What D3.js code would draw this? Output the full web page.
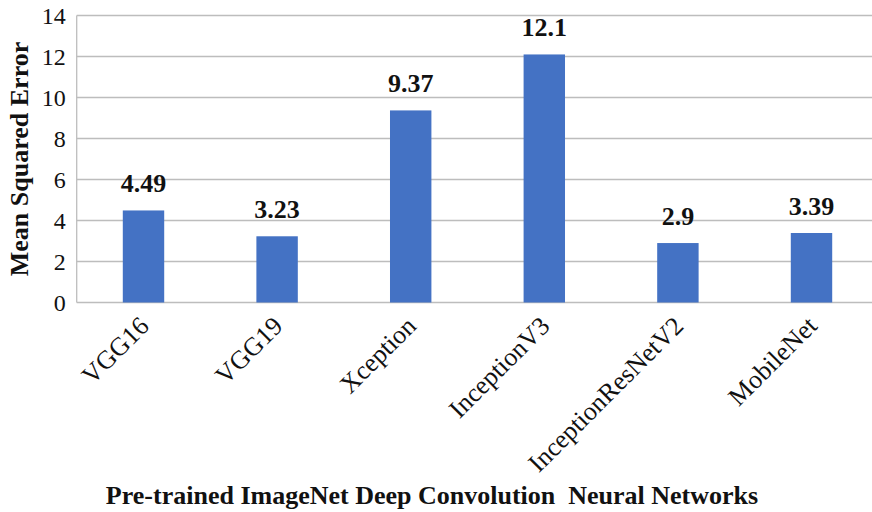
<!DOCTYPE html>
<html>
<head>
<meta charset="utf-8">
<script src="https://cdn.jsdelivr.net/npm/d3@7"></script>
<style>
  html, body { margin: 0; padding: 0; background: #fff; }
  svg { display: block; font-family: "Liberation Serif", "Times New Roman", serif; }
</style>
</head>
<body>
<svg id="chart" width="872" height="512"></svg>
<script>
// Mean squared error of each pre-trained network
const models = ["VGG16", "VGG19", "Xception", "InceptionV3", "InceptionResNetV2", "MobileNet"];
const mseValues = [4.49, 3.23, 9.37, 12.1, 2.9, 3.39];
const valueLabels = ["4.49", "3.23", "9.37", "12.1", "2.9", "3.39"];
const yTicks = [0, 2, 4, 6, 8, 10, 12, 14];

const svg = d3.select("#chart");
const plot = { left: 76.7, right: 878.3, top: 15.5, bottom: 302.5 };
const serif = "Liberation Serif";

const x = d3.scaleBand()
  .domain(models)
  .range([plot.left, plot.right])
  .paddingInner(0.69)
  .paddingOuter(0.345);

const y = d3.scaleLinear()
  .domain([0, 14])
  .range([plot.bottom, plot.top]);

// horizontal gridlines
svg.append("g")
  .selectAll("line")
  .data(yTicks)
  .join("line")
  .attr("x1", plot.left)
  .attr("x2", plot.right)
  .attr("y1", d => y(d))
  .attr("y2", d => y(d))
  .attr("stroke", "#bdbdbd")
  .attr("stroke-width", 1.3);

// left frame line
svg.append("line")
  .attr("x1", plot.left).attr("x2", plot.left)
  .attr("y1", y(14)).attr("y2", y(0))
  .attr("stroke", "#bdbdbd")
  .attr("stroke-width", 1.3);

// y axis tick labels
const yAxis = d3.axisLeft(y).tickValues(yTicks).tickSize(0).tickPadding(11);
const gy = svg.append("g")
  .attr("transform", `translate(${plot.left},0)`)
  .call(yAxis);
gy.select(".domain").remove();
gy.selectAll("text")
  .attr("font-family", serif)
  .attr("font-size", 24)
  .attr("fill", "#111");

// bars
svg.append("g")
  .selectAll("rect")
  .data(models)
  .join("rect")
  .attr("x", d => x(d))
  .attr("width", x.bandwidth())
  .attr("y", (d, i) => y(mseValues[i]))
  .attr("height", (d, i) => y(0) - y(mseValues[i]))
  .attr("fill", "#4472c4");

// value labels
svg.append("g")
  .selectAll("text")
  .data(models)
  .join("text")
  .attr("x", d => x(d) + x.bandwidth() / 2)
  .attr("y", (d, i) => y(mseValues[i]) - 18)
  .attr("text-anchor", "middle")
  .attr("font-family", serif)
  .attr("font-weight", "bold")
  .attr("font-size", 26)
  .attr("fill", "#111")
  .text((d, i) => valueLabels[i]);

// x axis category labels, rotated
const xAxis = d3.axisBottom(x).tickSize(0).tickPadding(0);
const gx = svg.append("g")
  .attr("transform", `translate(0,${plot.bottom})`)
  .call(xAxis);
gx.select(".domain").remove();
gx.selectAll("text")
  .attr("font-family", serif)
  .attr("font-size", 26)
  .attr("fill", "#111")
  .attr("text-anchor", "end")
  .attr("dy", 0)
  .attr("y", 0)
  .attr("transform", "translate(7,25) rotate(-45)");

// axis titles
svg.append("text")
  .attr("transform", `translate(28,${(plot.top + plot.bottom) / 2}) rotate(-90)`)
  .attr("text-anchor", "middle")
  .attr("font-family", serif)
  .attr("font-weight", "bold")
  .attr("font-size", 26)
  .attr("fill", "#111")
  .text("Mean Squared Error");

svg.append("text")
  .attr("x", 432)
  .attr("y", 504)
  .attr("text-anchor", "middle")
  .attr("font-family", serif)
  .attr("font-weight", "bold")
  .attr("font-size", 26)
  .attr("fill", "#111")
  .style("white-space", "pre")
  .text("Pre-trained ImageNet Deep Convolution  Neural Networks");
</script>
</body>
</html>
